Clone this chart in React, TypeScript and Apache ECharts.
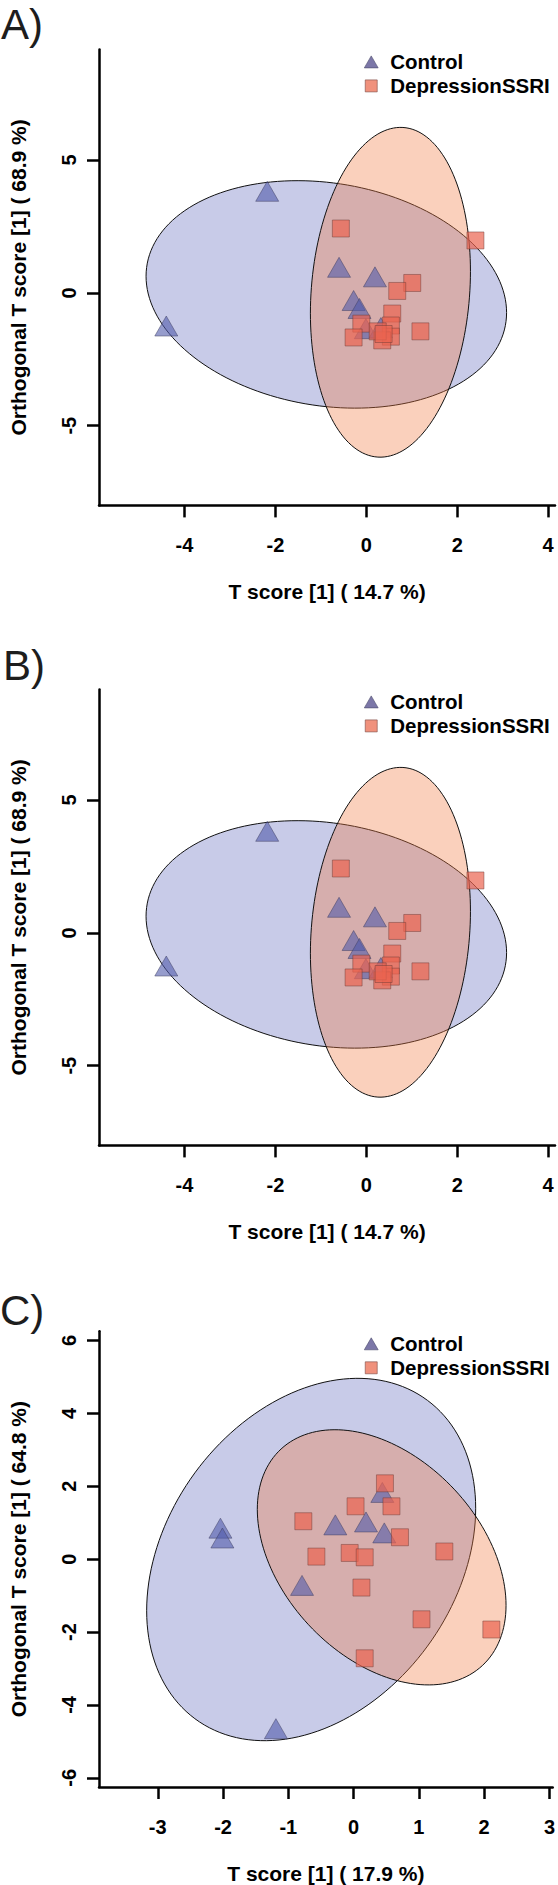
import React, { useEffect, useRef } from "react";
import * as echarts from "echarts";

// ---------- tick labels ----------
const xTicksAB = [-4, -2, 0, 2, 4];
const yTicksAB = [-5, 0, 5];
const xTicksC = [-3, -2, -1, 0, 1, 2, 3];
const yTicksC = [-6, -4, -2, 0, 2, 4, 6];

// ---------- axis ranges ----------
const xRangeAB = [-5.88, 4.15];
const yRangeAB = [-8, 9.16];
const xRangeC = [-3.9, 3.05];
const yRangeC = [-6.25, 6.25];

// ---------- panel A / B (same scores) ----------
const controlXAB = [-2.18, -4.4, -0.6, 0.19, -0.28, -0.15, -0.01, 0.32];
const controlYAB = [3.82, -1.25, 0.96, 0.6, -0.29, -0.59, -1.35, -1.31];
const ssriXAB = [-0.56, 2.4, 1.01, 0.68, 0.57, 1.19, -0.11, -0.28, 0.54, 0.54, 0.35, 0.25, 0.38];
const ssriYAB = [2.42, 1.97, 0.37, 0.07, -0.78, -1.45, -1.16, -1.68, -1.23, -1.65, -1.79, -1.45, -1.55];
// ellipse: centre x, centre y, half-width, half-height, correlation
const ellipseControlAB = [-0.88, -0.06, 3.965, 4.28, -0.16];
const ellipseSsriAB = [0.53, 0.02, 1.76, 6.205, 0.127];

// ---------- panel C ----------
const controlXC = [-2.04, -2.01, -0.28, 0.19, 0.47, 0.44, -0.79, -1.19];
const controlYC = [0.85, 0.58, 0.94, 1.02, 0.72, 1.83, -0.72, -4.65];
const ssriXC = [0.48, 0.03, 0.58, -0.77, 0.71, 1.39, -0.57, -0.06, 0.17, 0.12, 1.04, 2.11, 0.17];
const ssriYC = [2.08, 1.45, 1.45, 1.04, 0.6, 0.21, 0.07, 0.17, 0.05, -0.78, -1.65, -1.93, -2.72];
const ellipseControlC = [-0.65, -0.01, 2.52, 4.97, 0.283];
const ellipseSsriC = [0.43, 0.05, 1.905, 3.5, -0.376];

const groupNames = ["Control", "DepressionSSRI"];
const panelLabels = ["A)", "B)", "C)"];
const xTitles = ["T score [1] ( 14.7 %)", "T score [1] ( 14.7 %)", "T score [1] ( 17.9 %)"];
const yTitles = [
  "Orthogonal T score [1] ( 68.9 %)",
  "Orthogonal T score [1] ( 68.9 %)",
  "Orthogonal T score [1] ( 64.8 %)",
];

const FONT = "'Liberation Sans', Arial, Helvetica, sans-serif";

const zip = (xs: number[], ys: number[]) => xs.map((x, i) => [x, ys[i]]);

const panels = [
  {
    top: 49.4, labelTop: 3.8, labelLeft: 1,
    xRange: xRangeAB, yRange: yRangeAB, xTicks: xTicksAB, yTicks: yTicksAB,
    control: zip(controlXAB, controlYAB), ssri: zip(ssriXAB, ssriYAB),
    eCtrl: ellipseControlAB, eSsri: ellipseSsriAB,
  },
  {
    top: 689.4, labelTop: 644.5, labelLeft: 3,
    xRange: xRangeAB, yRange: yRangeAB, xTicks: xTicksAB, yTicks: yTicksAB,
    control: zip(controlXAB, controlYAB), ssri: zip(ssriXAB, ssriYAB),
    eCtrl: ellipseControlAB, eSsri: ellipseSsriAB,
  },
  {
    top: 1331.3, labelTop: 1289.5, labelLeft: 0,
    xRange: xRangeC, yRange: yRangeC, xTicks: xTicksC, yTicks: yTicksC,
    control: zip(controlXC, controlYC), ssri: zip(ssriXC, ssriYC),
    eCtrl: ellipseControlC, eSsri: ellipseSsriC,
  },
];

const ellipseRenderer = (fill: string) => (params: any, api: any) => {
  const cx = api.value(0), cy = api.value(1), hx = api.value(2), hy = api.value(3), r = api.value(4);
  const s = Math.sqrt(1 - r * r);
  const pts: number[][] = [];
  const N = 160;
  for (let k = 0; k < N; k++) {
    const t = (2 * Math.PI * k) / N;
    const x = cx + hx * Math.cos(t);
    const y = cy + hy * (r * Math.cos(t) + s * Math.sin(t));
    pts.push(api.coord([x, y]));
  }
  return {
    type: "polygon",
    shape: { points: pts },
    style: { fill, stroke: "#111", lineWidth: 1 },
  };
};

export default function App() {
  const ref = useRef<HTMLDivElement>(null);
  useEffect(() => {
    if (!ref.current) return;
    const chart = echarts.init(ref.current, undefined, { renderer: "svg" });
    const series: any[] = [];
    panels.forEach((p, i) => {
      series.push({
        type: "custom", name: "Control ellipse", xAxisIndex: i, yAxisIndex: i, silent: true, z: 1,
        renderItem: ellipseRenderer("rgba(98,106,189,0.35)"), data: [p.eCtrl],
      });
      series.push({
        type: "custom", name: "DepressionSSRI ellipse", xAxisIndex: i, yAxisIndex: i, silent: true, z: 1,
        renderItem: ellipseRenderer("rgba(241,121,64,0.35)"), data: [p.eSsri],
      });
      series.push({
        type: "scatter", name: groupNames[0], xAxisIndex: i, yAxisIndex: i, silent: true, z: 2,
        symbol: "triangle", symbolSize: [23, 20],
        itemStyle: { color: "rgba(80,90,170,0.6)", borderColor: "rgba(60,60,95,0.6)", borderWidth: 0.8, opacity: 1 },
        data: p.control,
      });
      series.push({
        type: "scatter", name: groupNames[1], xAxisIndex: i, yAxisIndex: i, silent: true, z: 3,
        symbol: "rect", symbolSize: 17,
        itemStyle: { color: "rgba(235,100,80,0.7)", borderColor: "rgba(110,60,55,0.6)", borderWidth: 0.8, opacity: 1 },
        data: p.ssri,
      });
    });

    const option: any = {
      animation: false,
      backgroundColor: "#fff",
      title: panels.map((p, i) => ({
        text: panelLabels[i], left: p.labelLeft, top: p.labelTop, padding: 0,
        textStyle: { fontFamily: FONT, fontSize: 42, lineHeight: 42, fontWeight: "normal", color: "#1d1d1d" },
      })),
      legend: panels.map((p) => ({
        orient: "vertical", left: 364, top: p.top + 2, padding: 0,
        itemWidth: 14, itemHeight: 12, itemGap: 3, selectedMode: false,
        textStyle: { fontFamily: FONT, fontSize: 20.5, fontWeight: "bold", color: "#000", lineHeight: 21, padding: [0, 0, 0, 7] },
        data: [
          { name: groupNames[0], icon: "path://M5,0L10,8.66L0,8.66Z", itemStyle: { color: "#7c77a8", borderColor: "#4a4a6a", borderWidth: 0.6 } },
          { name: groupNames[1], icon: "path://M0,0H10V10H0Z", itemStyle: { color: "#f0917c", borderColor: "#7a4a44", borderWidth: 0.6 } },
        ],
      })),
      grid: panels.map((p) => ({ left: 97, width: 458, top: p.top, height: 456 })),
      xAxis: panels.map((p, i) => ({
        gridIndex: i, type: "value", min: p.xRange[0], max: p.xRange[1],
        name: xTitles[i], nameLocation: "middle", nameGap: 76,
        nameTextStyle: { fontFamily: FONT, fontSize: 21, fontWeight: "bold", color: "#000" },
        axisLine: { show: true, onZero: false, lineStyle: { color: "#000", width: 2.5 } },
        axisTick: { show: true, customValues: p.xTicks, length: 12, lineStyle: { color: "#000", width: 2.5 } },
        axisLabel: { show: true, customValues: p.xTicks, margin: 30, fontFamily: FONT, fontSize: 20, fontWeight: "bold", color: "#000" },
        splitLine: { show: false },
      })),
      yAxis: panels.map((p, i) => ({
        gridIndex: i, type: "value", min: p.yRange[0], max: p.yRange[1],
        name: yTitles[i], nameLocation: "middle", nameGap: 70, nameRotate: 90,
        nameTextStyle: { fontFamily: FONT, fontSize: 21, fontWeight: "bold", color: "#000" },
        axisLine: { show: true, onZero: false, lineStyle: { color: "#000", width: 2.5 } },
        axisTick: { show: true, customValues: p.yTicks, length: 12, lineStyle: { color: "#000", width: 2.5 } },
        axisLabel: { show: true, customValues: p.yTicks, rotate: 90, margin: 20, fontFamily: FONT, fontSize: 20, fontWeight: "bold", color: "#000" },
        splitLine: { show: false },
      })),
      series,
    };
    chart.setOption(option);
    return () => chart.dispose();
  }, []);
  return (
    <div
      ref={ref}
      style={{ position: "absolute", left: 0, top: 0, width: 558, height: 1885, background: "#fff" }}
    />
  );
}
